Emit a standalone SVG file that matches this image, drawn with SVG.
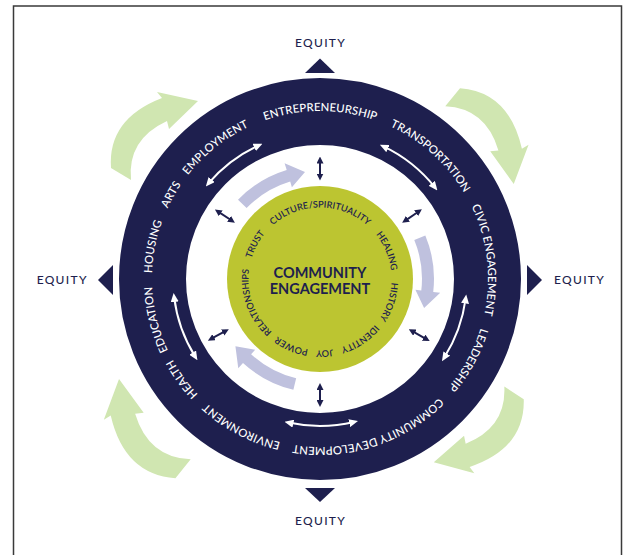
<svg xmlns="http://www.w3.org/2000/svg" xmlns:xlink="http://www.w3.org/1999/xlink" width="623" height="555" viewBox="0 0 623 555">
<style>
.ring-text{font-family:Lato,"Open Sans","Liberation Sans",sans-serif;font-size:11.3px;font-weight:500;fill:#ffffff;letter-spacing:0.1px}
.inner-text{font-family:Lato,"Open Sans","Liberation Sans",sans-serif;font-size:9.2px;font-weight:600;fill:#1e1f4e;letter-spacing:0px}
.center-text{font-family:Lato,"Open Sans","Liberation Sans",sans-serif;font-size:14.5px;font-weight:700;fill:#1e1f4e;text-anchor:middle}
.equity{font-family:Lato,"Open Sans","Liberation Sans",sans-serif;font-size:12px;font-weight:500;fill:#1e1f4e;letter-spacing:1.3px;text-anchor:middle}
.tri{fill:#1e1f4e}
.green-arrow{fill:#d0e6b1}
.lav-arrow{fill:#bfc1de}
.white-arrow{fill:none;stroke:#ffffff;stroke-width:2;marker-start:url(#wh);marker-end:url(#wh)}
.navy-arrow{fill:none;stroke:#1e1f4e;stroke-width:2;marker-start:url(#nh);marker-end:url(#nh)}
</style>
<defs>
<marker id="wh" markerUnits="userSpaceOnUse" markerWidth="9" markerHeight="8" refX="5" refY="4" orient="auto-start-reverse">
<path d="M0,0 L9,4 L0,8 Z" fill="#ffffff"/>
</marker>
<marker id="nh" markerUnits="userSpaceOnUse" markerWidth="7" markerHeight="7" refX="4" refY="3.5" orient="auto-start-reverse">
<path d="M0,0 L7,3.5 L0,7 Z" fill="#1e1f4e"/>
</marker>
<path id="outerPath" d="M320,447 A168,168 0 1 1 320,111 A168,168 0 1 1 320,447 A168,168 0 1 1 320,111 A168,168 0 1 1 320,447"/>
<path id="innerPath" d="M320,350.5 A71.5,71.5 0 1 1 320,207.5 A71.5,71.5 0 1 1 320,350.5 A71.5,71.5 0 1 1 320,207.5 A71.5,71.5 0 1 1 320,350.5"/>
<path id="greenTpl" d="M111,168 Q107.5,119 162,98 L157,92 L198,101 L169,129 L167,121 Q127,139.5 131,180 Z"/>
<path id="lavTpl" d="M238.0,199.8 A114,114 0 0 1 286.7,170.0 L284.6,163.3 L305.0,172.0 L291.9,187.2 L290.2,181.5 A102,102 0 0 0 246.6,208.1 Z"/>
</defs>

<rect x="0" y="0" width="623" height="555" fill="#ffffff"/>
<path d="M13.5,555 V6 H621.5 V555" fill="none" stroke="#3a3a3a" stroke-width="1.5"/>

<g id="equity-top">
<polygon class="tri" points="320,58.5 305,73 335,73"/>
<text class="equity" x="320.6" y="47">EQUITY</text>
</g>
<g id="equity-left">
<polygon class="tri" points="98,280 113,265 113,295"/>
<text class="equity" x="62.2" y="284">EQUITY</text>
</g>
<g id="equity-right">
<polygon class="tri" points="542,280 527,265 527,295"/>
<text class="equity" x="579.6" y="284">EQUITY</text>
</g>
<g id="equity-bottom">
<polygon class="tri" points="305,488 335,488 320,502"/>
<text class="equity" x="320.6" y="525">EQUITY</text>
</g>

<g id="cycle-arrows-outer">
<use href="#greenTpl" class="green-arrow"/>
<use href="#greenTpl" class="green-arrow" transform="rotate(98.3 320 279)"/>
<use href="#greenTpl" class="green-arrow" transform="rotate(182.6 320 279)"/>
<use href="#greenTpl" class="green-arrow" transform="translate(320 279) scale(1.04) rotate(278) translate(-320 -279)"/>
</g>

<g id="outer-ring">
<circle cx="320" cy="279" r="167.5" fill="none" stroke="#1e1f4e" stroke-width="67"/>
<text class="ring-text" text-anchor="middle"><textPath href="#outerPath" startOffset="527.8">ENTREPRENEURSHIP</textPath></text>
<text class="ring-text" text-anchor="middle"><textPath href="#outerPath" startOffset="650.4">TRANSPORTATION</textPath></text>
<text class="ring-text" text-anchor="middle"><textPath href="#outerPath" startOffset="772.1">CIVIC ENGAGEMENT</textPath></text>
<text class="ring-text" text-anchor="middle"><textPath href="#outerPath" startOffset="875.3">LEADERSHIP</textPath></text>
<text class="ring-text" text-anchor="middle"><textPath href="#outerPath" startOffset="1002.8">COMMUNITY DEVELOPMENT</textPath></text>
<text class="ring-text" text-anchor="middle"><textPath href="#outerPath" startOffset="82.1">ENVIRONMENT</textPath></text>
<text class="ring-text" text-anchor="middle"><textPath href="#outerPath" startOffset="158.3">HEALTH</textPath></text>
<text class="ring-text" text-anchor="middle"><textPath href="#outerPath" startOffset="222.9">EDUCATION</textPath></text>
<text class="ring-text" text-anchor="middle"><textPath href="#outerPath" startOffset="296.2">HOUSING</textPath></text>
<text class="ring-text" text-anchor="middle"><textPath href="#outerPath" startOffset="350.4">ARTS</textPath></text>
<text class="ring-text" text-anchor="middle"><textPath href="#outerPath" startOffset="414.9">EMPLOYMENT</textPath></text>
</g>

<g id="connectors">
<path class="white-arrow" d="M208.4,183.4 A147,147 0 0 1 258.8,145.3"/>
<path class="white-arrow" d="M383.5,146.4 A147,147 0 0 1 434.9,187.3"/>
<path class="white-arrow" d="M465.7,298.4 A147,147 0 0 1 444.1,357.8"/>
<path class="white-arrow" d="M354.1,422.0 A147,147 0 0 1 288.4,422.6"/>
<path class="white-arrow" d="M195.3,356.9 A147,147 0 0 1 174.1,296.9"/>
<path class="navy-arrow" d="M320,177.5 L320,159.5"/>
<path class="navy-arrow" d="M404.6,221.1 L419.4,211.0"/>
<path class="navy-arrow" d="M411.4,330.7 L427.1,339.6"/>
<path class="navy-arrow" d="M320,386 L320,404"/>
<path class="navy-arrow" d="M226.2,330.6 L210.5,339.2"/>
<path class="navy-arrow" d="M232.4,221.0 L217.4,211.1"/>
</g>

<g id="cycle-arrows-inner">
<use href="#lavTpl" class="lav-arrow"/>
<use href="#lavTpl" class="lav-arrow" transform="rotate(113.5 320 279)"/>
<use href="#lavTpl" class="lav-arrow" transform="rotate(239.5 320 279)"/>
</g>

<g id="community-engagement">
<circle cx="320" cy="279" r="93" fill="#bcc531"/>
<text class="center-text" x="320" y="277.7">COMMUNITY</text>
<text class="center-text" x="320" y="294">ENGAGEMENT</text>
<text class="inner-text" text-anchor="middle"><textPath href="#innerPath" startOffset="224.6">CULTURE/SPIRITUALITY</textPath></text>
<text class="inner-text" text-anchor="middle"><textPath href="#innerPath" startOffset="308.2">HEALING</textPath></text>
<text class="inner-text" text-anchor="middle"><textPath href="#innerPath" startOffset="359.4">HISTORY</textPath></text>
<text class="inner-text" text-anchor="middle"><textPath href="#innerPath" startOffset="406.8">IDENTITY</textPath></text>
<text class="inner-text" text-anchor="middle"><textPath href="#innerPath" startOffset="444.2">JOY</textPath></text>
<text class="inner-text" text-anchor="middle"><textPath href="#innerPath" startOffset="28.7">POWER</textPath></text>
<text class="inner-text" text-anchor="middle"><textPath href="#innerPath" startOffset="87.3">RELATIONSHIPS</textPath></text>
<text class="inner-text" text-anchor="middle"><textPath href="#innerPath" startOffset="147.2">TRUST</textPath></text>
</g>
</svg>
